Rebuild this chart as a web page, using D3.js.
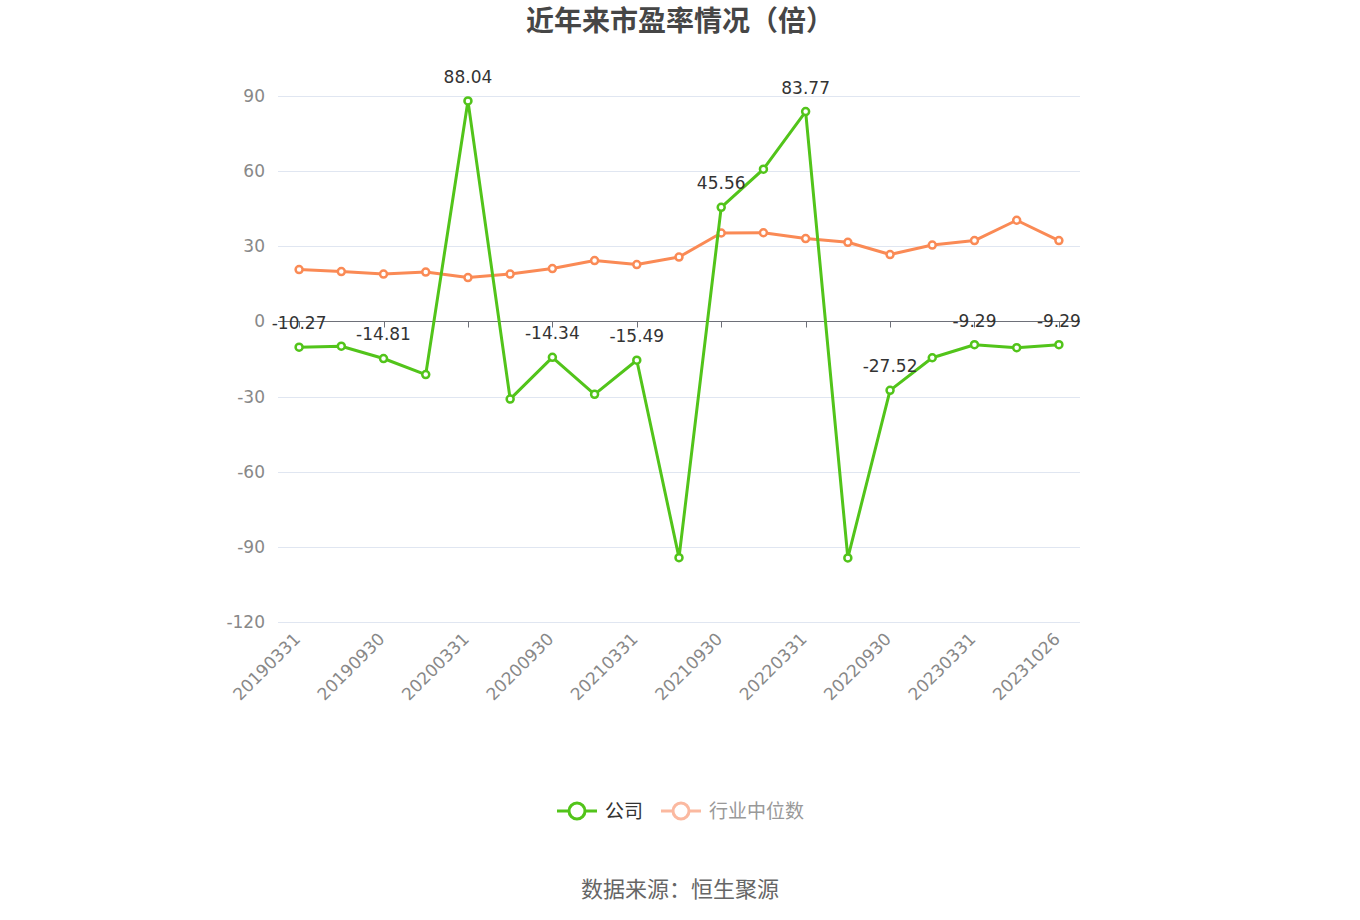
<!DOCTYPE html>
<html><head><meta charset="utf-8">
<script src="https://cdn.jsdelivr.net/npm/d3@7"></script>
<style>
html,body{margin:0;padding:0;background:#fff;}
svg{display:block;font-family:"Noto Sans CJK SC","Noto Sans",sans-serif;}
.num{font-family:"DejaVu Sans",sans-serif;}
</style></head>
<body><svg id="c" width="1360" height="920"></svg>
<script>
const categories = ["20190331","20190630","20190930","20191231","20200331","20200630","20200930","20201231","20210331","20210630","20210930","20211231","20220331","20220630","20220930","20221231","20230331","20230630","20231026"];
const companyPE = [-10.27,-9.9,-14.81,-21.2,88.04,-31.0,-14.34,-29.1,-15.49,-94.3,45.56,60.8,83.77,-94.4,-27.52,-14.5,-9.29,-10.5,-9.29];
const industryPE = [20.7,19.9,18.9,19.7,17.5,18.9,21.1,24.3,22.7,25.7,35.3,35.4,33.1,31.6,26.7,30.5,32.3,40.4,32.3];
const yTicks = [-120,-90,-60,-30,0,30,60,90];
const seriesNames = ["公司","行业中位数"];
const title = "近年来市盈率情况（倍）";
const source = "数据来源：恒生聚源";

(function(){
const svg = d3.select("#c");
const green = "#52c41a", orange = "#fa8a55";
const pLeft = 278, pRight = 1080, pTop = 96, pBottom = 622;

const x = d3.scaleBand().domain(categories).range([pLeft, pRight]).paddingInner(0).paddingOuter(0);
const cx = d => x(d) + x.bandwidth()/2;
const y = d3.scaleLinear().domain([-120, 90]).range([pBottom, pTop]);

svg.append("text").attr("x", 680).attr("y", 31).attr("text-anchor","middle")
  .attr("font-size", 28).attr("font-weight","bold").attr("fill","#464646").text(title);

svg.append("g").selectAll("line").data(yTicks.filter(t=>t!==0)).join("line")
  .attr("x1", pLeft).attr("x2", pRight).attr("y1", d=>Math.round(y(d))+0.5).attr("y2", d=>Math.round(y(d))+0.5)
  .attr("stroke", "#e0e6f1").attr("stroke-width", 1);

svg.append("g").selectAll("text").data(yTicks).join("text").attr("class","num")
  .attr("x", 265).attr("y", d=>y(d)).attr("dy","0.35em").attr("text-anchor","end")
  .attr("font-size", 17).attr("fill","#888").text(d=>d);

const y0 = Math.round(y(0))+0.5;
svg.append("line").attr("x1", pLeft).attr("x2", pRight).attr("y1", y0).attr("y2", y0)
  .attr("stroke","#6e7079").attr("stroke-width",1);
const labeled = categories.filter((d,i)=>i%2===0);
svg.append("g").selectAll("line").data(labeled).join("line")
  .attr("x1", d=>Math.round(cx(d))+0.5).attr("x2", d=>Math.round(cx(d))+0.5)
  .attr("y1", y0).attr("y2", y0+6).attr("stroke","#6e7079");

svg.append("g").selectAll("text").data(labeled).join("text").attr("class","num")
  .attr("transform", d=>`translate(${cx(d)-2},${pBottom+14}) rotate(-45)`)
  .attr("text-anchor","end").attr("dy","0.35em")
  .attr("font-size", 17).attr("fill","#888").text(d=>d);

function drawSeries(vals, color) {
  const line = d3.line().x((d,i)=>cx(categories[i])).y(d=>y(d));
  svg.append("path").datum(vals).attr("d", line).attr("fill","none")
    .attr("stroke", color).attr("stroke-width", 3).attr("stroke-linejoin","round");
  svg.append("g").selectAll("circle").data(vals).join("circle")
    .attr("cx", (d,i)=>cx(categories[i])).attr("cy", d=>y(d)).attr("r", 3.5)
    .attr("fill","#fff").attr("stroke", color).attr("stroke-width", 2.5);
}
drawSeries(industryPE, orange);
drawSeries(companyPE, green);

svg.append("g").selectAll("text").data(companyPE.map((v,i)=>({v,i})).filter(d=>d.i%2===0)).join("text").attr("class","num")
  .attr("x", d=>cx(categories[d.i])).attr("y", d=>y(d.v)-24).attr("dy","0.35em")
  .attr("text-anchor","middle").attr("font-size", 17).attr("fill","#333")
  .text(d=>d.v.toFixed(2));

const lg = svg.append("g");
const items = [{name:seriesNames[0], color:green, text:"#333", x:557},{name:seriesNames[1], color:"#fbb9a0", text:"#999", x:661}];
items.forEach(it=>{
  lg.append("line").attr("x1", it.x).attr("x2", it.x+40).attr("y1", 811).attr("y2", 811)
    .attr("stroke", it.color).attr("stroke-width", 3);
  lg.append("circle").attr("cx", it.x+20).attr("cy", 811).attr("r", 8)
    .attr("fill","#fff").attr("stroke", it.color).attr("stroke-width", 3);
  lg.append("text").attr("x", it.x+48).attr("y", 811).attr("dy","0.35em")
    .attr("font-size", 19).attr("fill", it.text).text(it.name);
});

svg.append("text").attr("x", 680).attr("y", 889).attr("dy","0.35em").attr("text-anchor","middle")
  .attr("font-size", 22).attr("fill","#666").text(source);
})();
</script></body></html>
